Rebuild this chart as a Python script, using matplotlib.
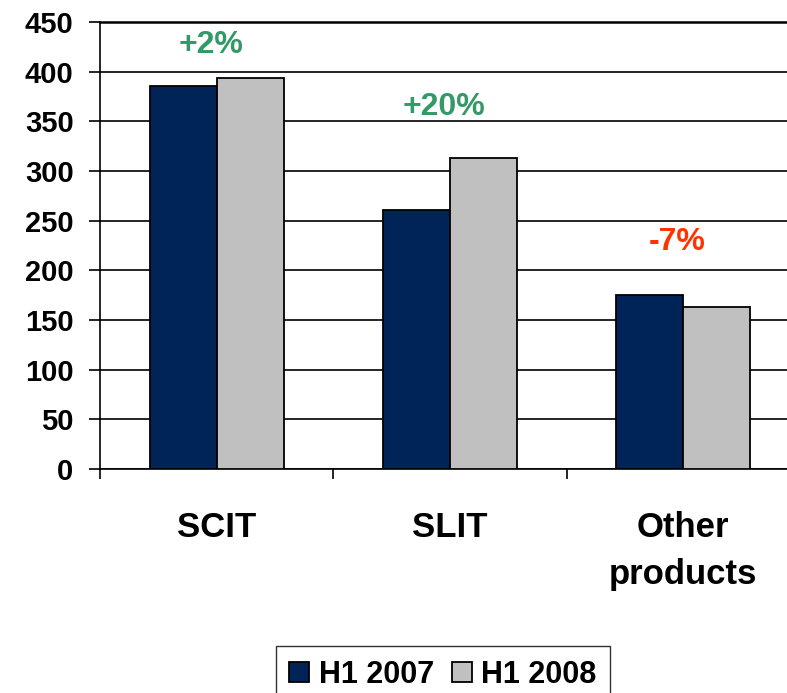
import matplotlib.pyplot as plt
import numpy as np

# データ
categories = ["SCIT", "SLIT", "Other\nproducts"]
h1_2007 = [386, 261, 175]
h1_2008 = [394, 313, 163]
growth_labels = ["+2%", "+20%", "-7%"]
growth_y = [427, 364, 229]
growth_colors = ["#339966", "#339966", "#FF3300"]
y_ticks = [0, 50, 100, 150, 200, 250, 300, 350, 400, 450]

plt.rcParams["font.family"] = ["Liberation Sans", "DejaVu Sans"]
plt.rcParams["font.weight"] = "bold"

fig = plt.figure(figsize=(7.87, 6.93), dpi=100)
ax = fig.add_axes((100 / 787, 224 / 693, 687 / 787, 447 / 693))

x = np.arange(len(categories))
bar_w = 0.287
ax.bar(x - bar_w / 2, h1_2007, bar_w, color="#002457", edgecolor="black",
       linewidth=1.3, label="H1 2007", zorder=3)
ax.bar(x + bar_w / 2, h1_2008, bar_w, color="#C0C0C0", edgecolor="black",
       linewidth=1.3, label="H1 2008", zorder=3)

# 伸び率
for xi, txt, yy, col in zip(x, growth_labels, growth_y, growth_colors):
    ax.text(xi - 0.025, yy, txt, color=col, fontsize=23, fontweight="bold",
            ha="center", va="center")

ax.set_yticks(y_ticks)
ax.set_yticklabels([str(v) for v in y_ticks], fontsize=21, fontweight="bold")
ax.yaxis.grid(True, color="black", linewidth=1.2, zorder=0)
ax.tick_params(axis="y", direction="out", length=8, width=1.2, pad=11)

# 区切りの目盛り（主）とカテゴリ名（副）
ax.set_xticks([-0.5, 0.5, 1.5, 2.5])
ax.set_xticklabels([])
ax.tick_params(axis="x", which="major", direction="out", length=7, width=1.2)
ax.set_xticks(x, minor=True)
ax.set_xticklabels(categories, minor=True, fontsize=25, fontweight="bold",
                   linespacing=1.55)
ax.tick_params(axis="x", which="minor", length=0, pad=30)

# set_xticks が表示範囲を広げるので最後に設定
ax.set_ylim(0, 450)
ax.set_xlim(-0.5, -0.5 + 687 / 233.3)

ax.spines["right"].set_visible(False)
ax.spines["top"].set_linewidth(1.8)
for s in ["left", "bottom"]:
    ax.spines[s].set_linewidth(1.2)

leg = fig.legend(loc="center", bbox_to_anchor=(443 / 787, 1 - 675 / 693),
                 ncol=2, fontsize=22, frameon=True, fancybox=False,
                 edgecolor="black", handlelength=0.65, handleheight=0.65,
                 handletextpad=0.3, columnspacing=0.6, borderpad=0.45)
leg.get_frame().set_linewidth(1.0)
for t in leg.get_texts():
    t.set_fontweight("bold")

fig.savefig("out.png", dpi=100)
